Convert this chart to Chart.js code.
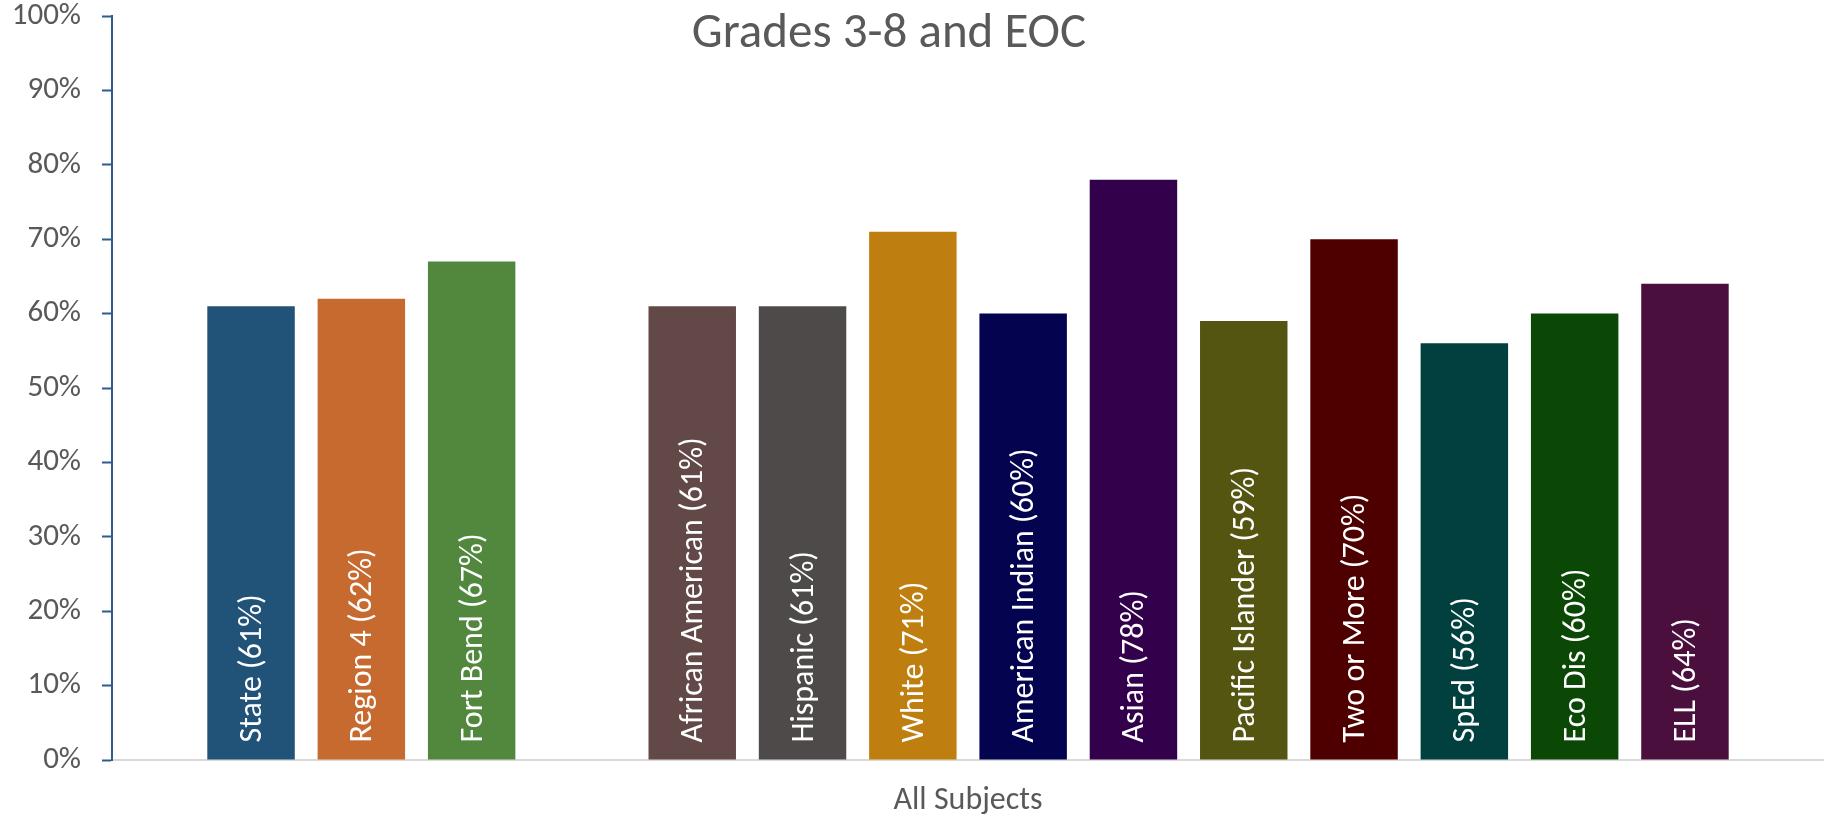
<!DOCTYPE html>
<html>
<head>
<meta charset="utf-8">
<script src="https://cdn.jsdelivr.net/npm/chart.js@4/dist/chart.umd.min.js"></script>
<style>
  html, body { margin: 0; padding: 0; background: #ffffff; }
  #wrap { width: 1824px; height: 819px; }
</style>
</head>
<body>
<div id="wrap"><canvas id="c" width="1824" height="819"></canvas></div>
<script>
const chartTitle = 'Grades 3-8 and EOC';
const categories = ['All Subjects'];
const seriesNames = ['State', 'Region 4', 'Fort Bend', '', 'African American', 'Hispanic', 'White',
  'American Indian', 'Asian', 'Pacific Islander', 'Two or More', 'SpEd', 'Eco Dis', 'ELL'];
const seriesValues = [61, 62, 67, null, 61, 61, 71, 60, 78, 59, 70, 56, 60, 64];
const seriesColors = ['#215278', '#C66A2F', '#52873E', '#ffffff', '#634848', '#4F4A4A', '#BF7F10',
  '#03034F', '#33004B', '#535511', '#4E0000', '#023F3F', '#0B4806', '#4A0F3D'];
const yTicks = [0, 10, 20, 30, 40, 50, 60, 70, 80, 90, 100];

const FONT = 'Carlito, Lato, "Open Sans", sans-serif';

const datasets = seriesNames.map((name, i) => ({
  label: name,
  data: [seriesValues[i]],
  backgroundColor: seriesColors[i],
  borderWidth: 0,
  barPercentage: 0.793,
  categoryPercentage: 0.902
}));

const barLabelPlugin = {
  id: 'barLabels',
  afterDatasetsDraw(chart) {
    const ctx = chart.ctx;
    ctx.save();
    ctx.fillStyle = '#ffffff';
    ctx.font = '32px ' + FONT;
    ctx.textAlign = 'left';
    ctx.textBaseline = 'middle';
    chart.data.datasets.forEach((ds, i) => {
      const v = ds.data[0];
      if (v === null || v === undefined || !ds.label) return;
      const el = chart.getDatasetMeta(i).data[0];
      ctx.save();
      ctx.translate(el.x + 2, el.base - 17);
      ctx.rotate(-Math.PI / 2);
      ctx.fillText(ds.label + ' (' + v + '%)', 0, 0);
      ctx.restore();
    });
    ctx.restore();
  }
};

const titlePlugin = {
  id: 'overlayTitle',
  afterDraw(chart) {
    const ctx = chart.ctx;
    ctx.save();
    ctx.fillStyle = '#595959';
    ctx.font = '49px ' + FONT;
    ctx.textAlign = 'center';
    ctx.textBaseline = 'middle';
    ctx.fillText(chartTitle, 889, 35);
    ctx.restore();
  }
};

new Chart(document.getElementById('c'), {
  type: 'bar',
  data: { labels: categories, datasets: datasets },
  plugins: [barLabelPlugin, titlePlugin],
  options: {
    responsive: false,
    devicePixelRatio: 1,
    animation: false,
    layout: { padding: { top: 16, right: 0, bottom: 0, left: 0 } },
    plugins: {
      legend: { display: false },
      tooltip: { enabled: false },
      title: { display: false }
    },
    scales: {
      x: {
        type: 'category',
        offset: true,
        grid: { display: true, drawOnChartArea: false, drawTicks: false },
        border: { display: true, color: '#D9D9D9', width: 2 },
        ticks: { color: '#595959', font: { family: FONT, size: 32 }, padding: 22 },
        afterFit(scale) { scale.height = 59; scale.paddingLeft = 0; scale.paddingRight = 0; }
      },
      y: {
        min: 0,
        max: 100,
        afterBuildTicks(scale) { scale.ticks = yTicks.map(v => ({ value: v })); },
        grid: { display: true, drawOnChartArea: false, drawTicks: true, tickLength: 10, tickColor: '#2F5C8A', tickWidth: 2 },
        border: { display: true, color: '#2F5C8A', width: 2 },
        ticks: {
          color: '#595959',
          font: { family: FONT, size: 31 },
          padding: 21,
          callback: v => v + '%'
        },
        afterFit(scale) { scale.width = 112; scale.paddingTop = 0; scale.paddingBottom = 0; }
      }
    }
  }
});
</script>
</body>
</html>
